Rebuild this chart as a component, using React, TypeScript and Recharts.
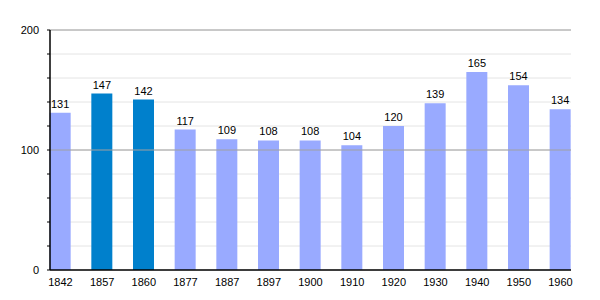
import React from "react";
import {
  BarChart,
  Bar,
  XAxis,
  YAxis,
  CartesianGrid,
  ReferenceLine,
  LabelList,
  Cell,
} from "recharts";

const years = ["1842", "1857", "1860", "1877", "1887", "1897", "1900", "1910", "1920", "1930", "1940", "1950", "1960"];
const population = [131, 147, 142, 117, 109, 108, 108, 104, 120, 139, 165, 154, 134];
const highlighted = ["1857", "1860"];
const yTicks = [0, 20, 40, 60, 80, 100, 120, 140, 160, 180, 200];
const majorTicks = [100, 200];

const data = years.map((year, i) => ({ year, value: population[i] }));

const font = "'Liberation Sans', Arial, sans-serif";

const YTick = (props: any) => {
  const { x, y, payload } = props;
  if (payload.value % 100 !== 0) return null;
  return (
    <text x={x - 6} y={y + 4} textAnchor="end" fontSize={11} fill="#000" fontFamily={font}>
      {payload.value}
    </text>
  );
};

export default function App() {
  return (
    <div style={{ position: "absolute", left: 0, top: 0, background: "#fff" }}>
      <BarChart
        width={600}
        height={300}
        data={data}
        margin={{ top: 30, right: 29, bottom: 0, left: 0 }}
      >
        <CartesianGrid vertical={false} stroke="#e4e4e4" strokeWidth={1} />
        {majorTicks.map((t) => (
          <ReferenceLine key={t} y={t} stroke="#a0a0a0" strokeWidth={1} />
        ))}
        <XAxis
          dataKey="year"
          scale="point"
          padding={{ left: 10.5, right: 10.5 }}
          height={30}
          tickLine={false}
          axisLine={{ stroke: "#000", strokeWidth: 1.5 }}
          tick={{ fontSize: 11, fill: "#000", fontFamily: font }}
          tickMargin={2}
          interval={0}
        />
        <YAxis
          width={50}
          domain={[0, 200]}
          ticks={yTicks}
          interval={0}
          tickSize={3}
          tickLine={{ stroke: "#000" }}
          axisLine={{ stroke: "#000", strokeWidth: 1.5 }}
          tick={<YTick />}
        />
        <Bar dataKey="value" barSize={21} isAnimationActive={false}>
          {data.map((d) => (
            <Cell key={d.year} fill={highlighted.includes(d.year) ? "#0080cc" : "#99aaff"} />
          ))}
          <LabelList
            dataKey="value"
            position="top"
            offset={5}
            style={{ fontSize: 11, fill: "#000", fontFamily: font }}
          />
        </Bar>
      </BarChart>
    </div>
  );
}
